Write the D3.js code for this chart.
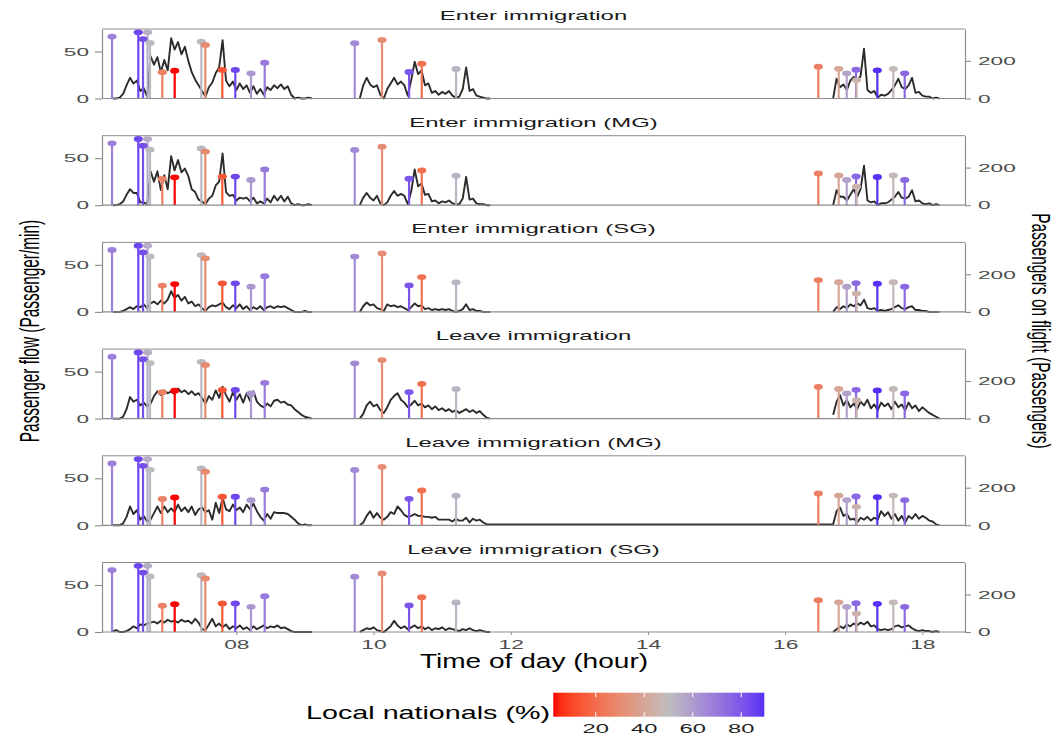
<!DOCTYPE html>
<html>
<head>
<meta charset="utf-8">
<script src="https://cdn.jsdelivr.net/npm/d3@7"></script>
<style>
  body { margin: 0; background: #ffffff; }
  text { font-family: "Liberation Sans", Arial, Helvetica, sans-serif; }
</style>
</head>
<body>
<svg id="chart" width="1055" height="737"></svg>
<script>
// ---- Facet titles -------------------------------------------------------
const panelTitles = [
  "Enter immigration",
  "Enter immigration (MG)",
  "Enter immigration (SG)",
  "Leave immigration",
  "Leave immigration (MG)",
  "Leave immigration (SG)"
];

// ---- Arriving flights (same in every facet) -----------------------------
const flightHours = [6.188, 6.571, 6.640, 6.706, 6.742, 6.921, 7.102, 7.490, 7.548, 7.796,
                     7.985, 8.214, 8.414, 9.726, 10.124, 10.518, 10.703, 11.203,
                     16.484, 16.781, 16.898, 17.034, 17.040, 17.344, 17.577, 17.743];
const flightPassengers = [329, 352, 316, 352, 295, 140, 148, 302, 285, 152,
                          152, 134, 190, 294, 311, 141, 185, 157,
                          169, 158, 134, 153, 98, 150, 158, 134];
const flightLocalPct = [68, 84, 82, 55, 51, 27, 2.5, 52, 30, 14,
                        84, 61, 70, 65, 31, 80, 21, 53,
                        26, 40, 58, 75, 45, 89.5, 48, 75];

// ---- Passenger flow per minute, sampled every 0.05 h in three blocks -------
const flowStep = 0.05;
const morningStart = 6.20;   // 59 samples
const noonStart = 9.80;      // 39 samples
const eveningStart = 16.70;  // 32 samples

const flowEnterAM = [0,0,1,5,14,22,16,19,8,11, 2,45,36,44,28,41,30,64,52,60, 47,55,40,28,20,14,8,2,12,17,
                     27,33,62,19,13,18,9,16,10,14, 6,13,5,10,4,12,9,14,11,15, 10,13,4,0,1,0,0,1,0];
const flowEnterNoon = [0,14,22,15,12,14,4,0,10,16, 22,15,18,14,3,20,39,26,30,14, 16,6,8,4,7,5,8,3,1,2,
                       10,33,8,10,3,2,1,0,0];
const flowEnterPM = [0,21,12,15,9,19,23,18,24,53, 9,6,8,1,4,3,5,9,14,21, 12,10,14,22,6,7,3,2,2,0, 1,0];

const flowEnterMgAM = [0,0,1,4,11,17,13,13,3,3, 1,36,25,36,16,32,17,52,37,48, 35,39,31,17,14,6,4,1,7,10,
                       21,25,55,14,10,11,5,8,7,8, 4,8,2,4,2,7,3,10,5,10, 4,9,2,0,1,0,0,1,0];
const flowEnterMgNoon = [0,8,13,8,5,10,2,0,3,10, 15,10,12,10,1,15,38,20,23,11, 12,4,5,2,4,3,5,2,1,1,
                         7,30,6,7,2,1,1,0,0];
const flowEnterMgPM = [0,16,9,9,5,11,17,9,17,42, 5,3,4,0,2,2,3,6,9,14, 8,7,9,16,4,5,2,1,2,0, 1,0];

const flowEnterSgAM = [0,0,0,1,3,5,3,6,5,8, 4,9,11,8,12,9,13,22,15,18, 12,16,9,11,6,8,4,1,5,7,
                       6,8,10,5,3,7,4,8,3,6, 2,5,3,6,2,5,6,4,6,5, 6,4,2,0,0,0,1,0,0];
const flowEnterSgNoon = [0,6,10,7,8,4,3,1,8,6, 7,5,6,4,2,5,9,6,7,3, 4,2,3,2,3,2,3,1,0,1,
                         3,8,2,3,1,1,0,0,0];
const flowEnterSgPM = [0,5,3,6,4,8,6,9,7,13, 4,3,4,1,2,1,2,3,5,7, 4,3,5,6,2,2,1,1,0,0, 0,0];

const flowLeaveAM = [0,0,0,2,10,23,18,20,14,17, 13,16,24,29,25,30,27,29,26,32, 28,30,26,29,25,27,22,16,24,20,
                     30,22,34,25,18,28,20,26,17,27, 19,29,18,14,12,16,13,19,20,17, 18,15,14,10,7,4,2,1,0];
const flowLeaveNoon = [0,5,14,18,13,15,9,6,12,20, 24,27,20,17,12,15,19,14,16,12, 14,10,13,9,11,8,10,7,9,6,
                       8,10,7,9,6,8,4,1,0];
const flowLeavePM = [4,18,25,14,20,12,16,10,18,14, 20,11,15,9,17,13,16,10,18,12, 15,9,17,11,14,8,12,9,6,4, 2,0];

const flowLeaveMgAM = [0,0,0,2,9,20,12,16,6,10, 4,6,13,20,13,20,14,18,14,22, 15,19,14,20,11,17,19,14,16,6,
                       24,13,29,17,15,22,16,19,14,22, 17,23,15,9,5,12,7,14,13,13, 13,12,9,6,2,0,1,0,0];
const flowLeaveMgNoon = [0,3,10,15,8,13,8,6,9,14, 12,20,16,11,9,10,12,10,10,9, 9,8,9,6,6,6,6,4,7,5,
                         5,8,3,7,5,6,3,1,1];
const flowLeaveMgPM = [1,15,19,10,12,6,7,3,8,6, 9,5,8,6,15,10,14,7,12,5, 10,3,10,7,12,7,10,8,5,4, 1,0];

const flowLeaveSgAM = [1,2,0,0,1,3,6,4,8,7, 9,10,11,9,12,10,13,11,12,10, 13,11,12,9,14,10,3,2,8,14,
                       6,9,5,8,3,6,4,7,3,5, 2,6,3,5,7,4,6,5,7,4, 5,3,1,0,0,0,0,0,0];
const flowLeaveSgNoon = [0,2,4,3,5,2,1,0,3,6, 12,7,4,6,3,5,7,4,6,3, 5,2,4,3,5,2,4,3,2,1,
                         3,2,4,2,1,2,1,0,0];
const flowLeaveSgPM = [0,3,6,4,8,6,9,7,10,8, 11,6,7,3,2,3,2,3,6,7, 5,6,7,4,2,1,2,1,1,0, 1,0];

// Facets whose noon and evening records run on without a gap
const continuousPanels = ["Leave immigration (MG)"];

// ---- Axis ticks ----------------------------------------------------------
const hourTicks = [8, 10, 12, 14, 16, 18];
const flowTicks = [0, 50];
const paxTicks = [0, 200];
const legendTicks = [20, 40, 60, 80];

// ---- Layout ----------------------------------------------------------------
const svg = d3.select("#chart");
const panelLeft = 102, panelRight = 965;
const panelTop0 = 29, panelPitch = 106.7, panelH = 69.5;
const flowMax = 73.9, paxPerFlow = 5;

const x = d3.scaleLinear().domain([6.042, 18.622]).range([panelLeft, panelRight]);
const y = d3.scaleLinear().domain([0, flowMax]).range([panelH, 0]);
const yPax = d3.scaleLinear().domain([0, flowMax * paxPerFlow]).range([panelH, 0]);

// Diverging colour ramp through grey at 50 %, interpolated in Lab
const colourMid = 50;
const colourLimits = d3.extent(flightLocalPct);
const colourHalf = d3.max(colourLimits, v => Math.abs(v - colourMid));
const ramp = d3.scaleLinear().domain([0, 0.5, 1])
  .range(["#FF0000", "#BEBEBE", "#0000FF"]).interpolate(d3.interpolateLab);
const colour = v => ramp((v - colourMid) / (2 * colourHalf) + 0.5);

const flows = [
  [flowEnterAM, flowEnterNoon, flowEnterPM],
  [flowEnterMgAM, flowEnterMgNoon, flowEnterMgPM],
  [flowEnterSgAM, flowEnterSgNoon, flowEnterSgPM],
  [flowLeaveAM, flowLeaveNoon, flowLeavePM],
  [flowLeaveMgAM, flowLeaveMgNoon, flowLeaveMgPM],
  [flowLeaveSgAM, flowLeaveSgNoon, flowLeaveSgPM]
];

function block(start, values) {
  return values.map((v, i) => [start + i * flowStep, v]);
}

// Text drawn with a horizontal stretch about its anchor point
function wideText(parent, tx, ty, str, size, sx, anchor, fill) {
  return parent.append("text")
    .attr("transform", `translate(${tx},${ty}) scale(${sx},1)`)
    .attr("text-anchor", anchor)
    .attr("font-size", size)
    .attr("fill", fill)
    .text(str);
}

const axisGrey = "#8c8c8c";
const tickText = "#4d4d4d";

const flights = flightHours.map((h, i) => ({
  hour: h, pax: flightPassengers[i], pct: flightLocalPct[i]
}));

panelTitles.forEach((title, i) => {
  const top = panelTop0 + i * panelPitch;
  const g = svg.append("g").attr("transform", `translate(0,${top})`);

  // panel frame top edge
  g.append("line")
    .attr("x1", panelLeft).attr("x2", panelRight).attr("y1", 0).attr("y2", 0)
    .attr("stroke", axisGrey).attr("stroke-width", 1);

  wideText(g, (panelLeft + panelRight) / 2, -9, title, 13, 1.84, "middle", "#1a1a1a");

  // passenger flow line
  const [am, noon, pm] = flows[i];
  let pts = block(morningStart, am).concat([null], block(noonStart, noon));
  if (!continuousPanels.includes(title)) pts.push(null);
  pts = pts.concat(block(eveningStart, pm));
  g.append("path")
    .datum(pts)
    .attr("fill", "none")
    .attr("stroke", "#2b2b2b")
    .attr("stroke-width", 1.9)
    .attr("stroke-linejoin", "round")
    .attr("d", d3.line().defined(d => d !== null).x(d => x(d[0])).y(d => y(d[1]))(pts));

  // flight stems and heads
  g.selectAll("line.stem").data(flights).join("line")
    .attr("class", "stem")
    .attr("x1", d => x(d.hour)).attr("x2", d => x(d.hour))
    .attr("y1", yPax(0)).attr("y2", d => yPax(d.pax))
    .attr("stroke", d => colour(d.pct))
    .attr("stroke-width", 2.2);
  g.selectAll("ellipse.head").data(flights).join("ellipse")
    .attr("class", "head")
    .attr("cx", d => x(d.hour)).attr("cy", d => yPax(d.pax))
    .attr("rx", 4.6).attr("ry", 2.9)
    .attr("fill", d => colour(d.pct));

  // left axis
  const la = g.append("g").attr("transform", `translate(${panelLeft},0)`)
    .call(d3.axisLeft(y).tickValues(flowTicks).tickSize(7).tickSizeOuter(0).tickPadding(6));
  // right axis
  const ra = g.append("g").attr("transform", `translate(${panelRight},0)`)
    .call(d3.axisRight(yPax).tickValues(paxTicks).tickSize(6).tickSizeOuter(0).tickPadding(7));
  // bottom axis line
  g.append("line")
    .attr("x1", panelLeft).attr("x2", panelRight).attr("y1", panelH).attr("y2", panelH)
    .attr("stroke", axisGrey).attr("stroke-width", 1.2);

  [la, ra].forEach((ax, k) => {
    ax.select(".domain").attr("stroke", axisGrey).attr("stroke-width", 1.2);
    ax.selectAll(".tick line").attr("stroke", axisGrey).attr("stroke-width", 1.1);
    ax.selectAll(".tick text")
      .attr("font-size", 11.6)
      .attr("fill", tickText)
      .attr("font-family", null)
      .attr("x", k === 0 ? -13 / 1.95 : 13 / 1.95)
      .attr("transform", "scale(1.95,1)");
  });

  if (i === panelTitles.length - 1) {
    const ba = g.append("g").attr("transform", `translate(0,${panelH})`)
      .call(d3.axisBottom(x).tickValues(hourTicks).tickSize(3).tickSizeOuter(0).tickPadding(5)
        .tickFormat(d => String(d).padStart(2, "0")));
    ba.select(".domain").remove();
    ba.selectAll(".tick line").attr("stroke", axisGrey);
    ba.selectAll(".tick text")
      .attr("font-size", 12).attr("fill", tickText).attr("font-family", null)
      .attr("transform", "scale(1.9,1)")
      .attr("x", 0);
  }
});

// axis titles
wideText(svg, 534, 668, "Time of day (hour)", 19.5, 1.44, "middle", "#000");
svg.append("text")
  .attr("transform", "translate(39,331) scale(1.8,1) rotate(-90)")
  .attr("text-anchor", "middle").attr("font-size", 15.4).attr("fill", "#000")
  .text("Passenger flow (Passenger/min)");
svg.append("text")
  .attr("transform", "translate(1031.5,331) scale(1.72,1) rotate(90)")
  .attr("text-anchor", "middle").attr("font-size", 15.4).attr("fill", "#000")
  .text("Passengers on flight (Passengers)");

// ---- Colour bar legend ---------------------------------------------------
const barX0 = 553.3, barX1 = 764.3, barY = 692.7, barH = 24;
const lx = d3.scaleLinear().domain(colourLimits).range([barX0, barX1]);
const defs = svg.append("defs");
const grad = defs.append("linearGradient").attr("id", "localGrad")
  .attr("x1", "0%").attr("x2", "100%").attr("y1", "0%").attr("y2", "0%");
d3.range(0, 41).forEach(k => {
  const v = colourLimits[0] + (colourLimits[1] - colourLimits[0]) * k / 40;
  grad.append("stop").attr("offset", `${k * 2.5}%`).attr("stop-color", colour(v));
});
svg.append("rect")
  .attr("x", barX0).attr("y", barY).attr("width", barX1 - barX0).attr("height", barH)
  .attr("fill", "url(#localGrad)");
legendTicks.forEach(v => {
  svg.append("line").attr("x1", lx(v)).attr("x2", lx(v)).attr("y1", barY).attr("y2", barY + 4.5)
    .attr("stroke", "#fff").attr("stroke-width", 1);
  svg.append("line").attr("x1", lx(v)).attr("x2", lx(v)).attr("y1", barY + barH - 4.5).attr("y2", barY + barH)
    .attr("stroke", "#fff").attr("stroke-width", 1);
  wideText(svg, lx(v), 733, String(v), 12.5, 1.9, "middle", "#222");
});
wideText(svg, 550, 719, "Local nationals (%)", 17.5, 1.64, "end", "#000");
</script>
</body>
</html>
